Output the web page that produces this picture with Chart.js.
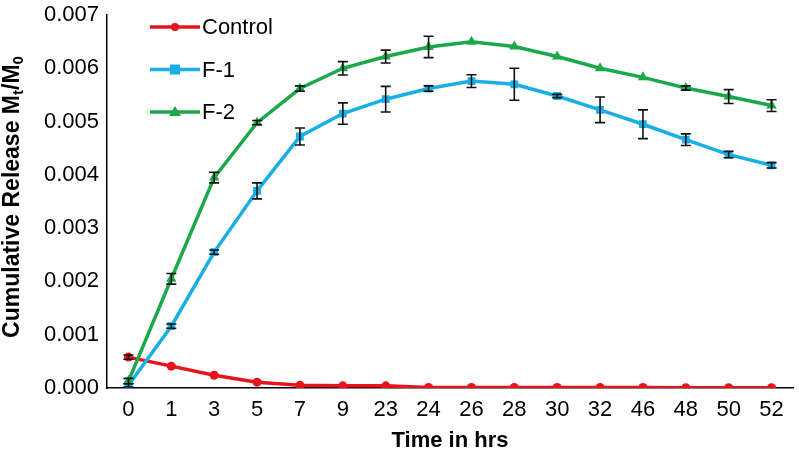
<!DOCTYPE html>
<html><head><meta charset="utf-8">
<script src="https://cdn.jsdelivr.net/npm/chart.js@4.4.1/dist/chart.umd.min.js"></script>
<style>html,body{margin:0;padding:0;background:#fff}#wrap{width:799px;height:458px}</style>
</head><body><div id="wrap"><canvas id="c" width="799" height="458"></canvas></div>
<script>
const categories = ['0','1','3','5','7','9','23','24','26','28','30','32','46','48','50','52'];
const controlValues = [0.00058,0.00041,0.00024,0.00011,0.00005,0.00004,0.00004,0.00001,0.00001,0.00001,0.00001,0.00001,0.00001,0.000005,0.000005,0.000005];
const controlErrors = [0.00004,0.00002,0.00002,0.00001,0.00001,0.00001,0.00001,0.00001,0.00001,0.00001,0.00001,0.00001,0.00001,0.00001,0.00001,0.00001];
const f1Values = [0.00005,0.00116,0.00255,0.0037,0.00472,0.00515,0.00542,0.00562,0.00576,0.0057,0.00548,0.00522,0.00495,0.00466,0.00438,0.00418];
const f1Errors = [0.00003,0.00004,0.00004,0.00015,0.00016,0.0002,0.00024,0.00005,0.00012,0.0003,0.00003,0.00024,0.00027,0.00011,0.00006,0.00005];
const f2Values = [0.00013,0.00205,0.00395,0.00498,0.00562,0.006,0.00622,0.0064,0.0065,0.00641,0.00622,0.006,0.00583,0.00563,0.00547,0.0053];
const f2Errors = [0.00005,0.0001,0.0001,0.00004,0.00005,0.000125,0.00012,0.0002,0.00002,0.00002,0.00002,0.00002,0.00002,0.00004,0.00013,0.00011];
const yTicks = [0,0.001,0.002,0.003,0.004,0.005,0.006,0.007];

const RED='#e8141b', BLUE='#1aaee6', GREEN='#1ba84a';
const FONT='"Liberation Sans", Arial, Helvetica, sans-serif';

const errorBars = {
  id:'errorBars',
  afterDatasetsDraw(chart){
    const ctx=chart.ctx, y=chart.scales.y;
    ctx.save(); ctx.strokeStyle='#111'; ctx.lineWidth=1.6;
    chart.data.datasets.forEach((ds,i)=>{
      const meta=chart.getDatasetMeta(i);
      meta.data.forEach((pt,j)=>{
        const e=ds.errors[j], v=ds.data[j];
        const top=y.getPixelForValue(v+e), bot=y.getPixelForValue(Math.max(0,v-e));
        if(bot-top<3) return;
        const x=pt.x;
        ctx.beginPath();
        ctx.moveTo(x,top);ctx.lineTo(x,bot);
        ctx.moveTo(x-5,top);ctx.lineTo(x+5,top);
        ctx.moveTo(x-5,bot);ctx.lineTo(x+5,bot);
        ctx.stroke();
      });
    });
    ctx.restore();
  }
};

const customText = {
  id:'customText',
  afterDraw(chart){
    const ctx=chart.ctx;
    ctx.save();
    const items=[['Control',RED,'circle'],['F-1',BLUE,'rect'],['F-2',GREEN,'triangle']];
    items.forEach((it,i)=>{
      const yy=27+i*42.5;
      ctx.strokeStyle=it[1]; ctx.lineWidth=3.5;
      ctx.beginPath(); ctx.moveTo(150,yy); ctx.lineTo(200,yy); ctx.stroke();
      ctx.fillStyle=it[1];
      ctx.beginPath();
      if(it[2]==='circle'){ctx.arc(175,yy,4,0,Math.PI*2);}
      else if(it[2]==='rect'){ctx.rect(170,yy-5,10,10);}
      else {ctx.moveTo(175,yy-6);ctx.lineTo(181,yy+4);ctx.lineTo(169,yy+4);ctx.closePath();}
      ctx.fill();
      ctx.fillStyle='#000'; ctx.font='22px '+FONT; ctx.textBaseline='middle'; ctx.textAlign='left';
      ctx.fillText(it[0],202,yy+1);
    });
    const cx=13, cy=197;
    ctx.translate(cx,cy); ctx.rotate(-Math.PI/2);
    const big='bold 23px '+FONT, small='bold 15px '+FONT;
    const parts=[['Cumulative Release M',big,0],['t',small,6],['/M',big,0],['0',small,6]];
    let total=0; parts.forEach(p=>{ctx.font=p[1]; total+=ctx.measureText(p[0]).width;});
    let xx=-total/2; ctx.fillStyle='#000'; ctx.textBaseline='middle'; ctx.textAlign='left';
    parts.forEach(p=>{ctx.font=p[1]; ctx.fillText(p[0],xx,p[2]); xx+=ctx.measureText(p[0]).width;});
    ctx.restore();
  }
};

function ds(label,data,errors,color,style,radius){
  return {label,data,errors,borderColor:color,backgroundColor:color,borderWidth:3.5,
    pointStyle:style,pointRadius:radius,pointHoverRadius:radius,pointBorderWidth:0,tension:0};
}

new Chart(document.getElementById('c'),{
  type:'line',
  data:{labels:categories,datasets:[
    ds('F-2',f2Values,f2Errors,GREEN,'triangle',6),
    ds('F-1',f1Values,f1Errors,BLUE,'rect',5.5),
    ds('Control',controlValues,controlErrors,RED,'circle',4.5)
  ]},
  options:{
    responsive:false,animation:false,
    layout:{padding:{top:15,right:4,left:0,bottom:0}},
    plugins:{legend:{display:false},tooltip:{enabled:false}},
    scales:{
      x:{offset:true,grid:{display:false,drawTicks:false},border:{color:'#000',width:1.5},
        ticks:{color:'#000',font:{size:22,family:FONT},padding:9,maxRotation:0,autoSkip:false},
        title:{display:true,text:'Time in hrs',color:'#000',font:{size:22,weight:'bold',family:FONT},padding:{top:5}},
        afterFit(s){s.height=70;}},
      y:{min:0,max:0.007,grid:{display:false,drawTicks:false},border:{color:'#000',width:1.5},
        afterBuildTicks(s){s.ticks=yTicks.map(v=>({value:v}));},
        ticks:{color:'#000',font:{size:22,family:FONT},padding:8,callback:v=>v.toFixed(3)},
        afterFit(s){s.width=107;s.paddingTop=0;s.paddingBottom=0;}}
    }
  },
  plugins:[errorBars,customText]
});
</script></body></html>
